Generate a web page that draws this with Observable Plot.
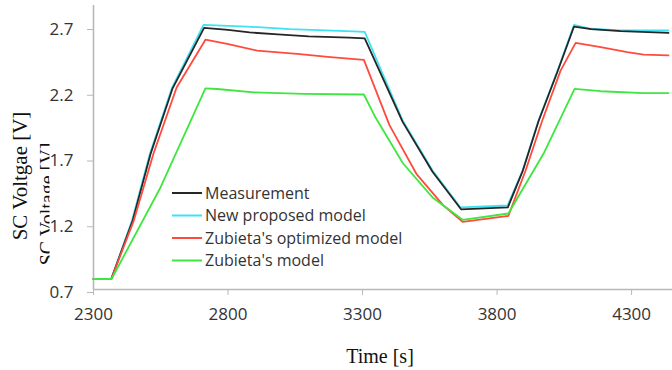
<!DOCTYPE html>
<html><head><meta charset="utf-8">
<script src="https://cdn.jsdelivr.net/npm/d3@7"></script>
<script src="https://cdn.jsdelivr.net/npm/@observablehq/plot@0.6"></script>
<style>
body{margin:0;background:#fff}
#chart{position:relative;width:672px;height:370px}
</style>
</head><body><div id="chart"></div>
<script>
const seriesNames = ["Measurement", "New proposed model", "Zubieta's optimized model", "Zubieta's model"];
const seriesColors = ["#262626", "#3ee2f2", "#ff4b3e", "#3fe63f"];

const measT = [2300, 2366, 2445, 2512, 2594, 2711, 2800, 2880, 2985, 3100, 3250, 3308, 3449, 3560, 3666, 3840, 3895, 3954, 4025, 4086, 4150, 4260, 4437];
const measV = [0.78, 0.78, 1.22, 1.73, 2.23, 2.69, 2.675, 2.655, 2.64, 2.625, 2.615, 2.61, 1.975, 1.595, 1.31, 1.325, 1.6, 1.98, 2.36, 2.70, 2.68, 2.665, 2.652];

const newT = [2300, 2366, 2443, 2510, 2592, 2709, 2870, 3030, 3240, 3308, 3449, 3560, 3664, 3839, 3895, 3954, 4025, 4086, 4148, 4259, 4437];
const newV = [0.78, 0.78, 1.225, 1.735, 2.236, 2.713, 2.70, 2.68, 2.665, 2.66, 1.985, 1.605, 1.324, 1.339, 1.605, 1.985, 2.365, 2.713, 2.683, 2.67, 2.67];

const optT = [2300, 2366, 2449, 2523, 2609, 2716, 2797, 2908, 3057, 3181, 3305, 3400, 3500, 3600, 3672, 3842, 3906, 3968, 4036, 4092, 4185, 4284, 4345, 4437];
const optV = [0.78, 0.78, 1.22, 1.734, 2.236, 2.60, 2.568, 2.517, 2.492, 2.467, 2.447, 1.95, 1.58, 1.34, 1.215, 1.26, 1.605, 1.985, 2.365, 2.576, 2.543, 2.505, 2.487, 2.48];

const zubT = [2300, 2367, 2549, 2716, 2760, 2896, 3082, 3305, 3345, 3450, 3560, 3672, 3842, 3973, 4088, 4185, 4345, 4437];
const zubV = [0.78, 0.78, 1.476, 2.23, 2.225, 2.20, 2.188, 2.183, 2.02, 1.66, 1.40, 1.23, 1.278, 1.734, 2.226, 2.208, 2.193, 2.193];

const xTicks = [2300, 2800, 3300, 3800, 4300];
const yTicks = [0.7, 1.2, 1.7, 2.2, 2.7];
const xTitle = "Time [s]";
const yTitle = "SC Voltgae [V]";
const yGhostTitle = "SC Voltage [V]";

const toRows = (T, V, s) => T.map((t, i) => ({t, v: V[i], s}));
const allT = [measT, newT, optT, zubT];
const allV = [measV, newV, optV, zubV];
const drawOrder = [1, 0, 2, 3];
const rows = drawOrder.flatMap(k => toRows(allT[k], allV[k], seriesNames[k]));

const chart = Plot.plot({
  width: 672, height: 370,
  marginLeft: 93, marginRight: 0, marginTop: 5, marginBottom: 81,
  style: {fontFamily: "'Open Sans', sans-serif", fontSize: "17px", background: "#fff"},
  x: {domain: [2300, 4452]},
  y: {domain: [0.7, 2.86]},
  color: {domain: seriesNames, range: seriesColors},
  marks: [
    Plot.axisX({ticks: xTicks, tickSize: 6, tickPadding: 12, stroke: "#b8b8b8", fill: "#333", label: null, tickFormat: d => String(d)}),
    Plot.axisY({ticks: yTicks, tickSize: 6, tickPadding: 14, stroke: "#b8b8b8", fill: "#333", label: null, dy: 3, tickFormat: d => d.toFixed(1)}),
    Plot.ruleY([0.7], {stroke: "#b8b8b8", strokeWidth: 1.6}),
    Plot.ruleX([2300], {stroke: "#b8b8b8", strokeWidth: 1.6}),
    Plot.line(rows, {x: "t", y: "v", z: "s", stroke: "s", strokeWidth: 1.8, curve: "linear"})
  ]
});
document.getElementById("chart").appendChild(chart);

const svg = d3.select(chart);
// ghost (clipped) axis title
svg.append("defs").append("clipPath").attr("id", "ghostclip")
  .append("rect").attr("x", 0).attr("y", 143).attr("width", 49.5).attr("height", 200);
svg.append("g").attr("clip-path", "url(#ghostclip)")
  .append("text")
  .attr("transform", "translate(54,204) rotate(-90)")
  .attr("text-anchor", "middle").attr("font-family", "'Liberation Serif', serif")
  .attr("font-size", 20).attr("fill", "#111").text(yGhostTitle);
// axis titles
svg.append("text")
  .attr("transform", "translate(27,176) rotate(-90)")
  .attr("text-anchor", "middle").attr("font-family", "'Liberation Serif', serif")
  .attr("font-size", 21).attr("fill", "#111").text(yTitle);
svg.append("text")
  .attr("x", 380).attr("y", 363)
  .attr("text-anchor", "middle").attr("font-family", "'Liberation Serif', serif")
  .attr("font-size", 20).attr("fill", "#111").text(xTitle);
// legend
const lg = svg.append("g").attr("transform", "translate(172,193)");
seriesNames.forEach((name, i) => {
  const g = lg.append("g").attr("transform", `translate(0,${i * 22.5})`);
  g.append("line").attr("x1", 0).attr("x2", 30).attr("y1", 0).attr("y2", 0)
    .attr("stroke", seriesColors[i]).attr("stroke-width", 2);
  g.append("text").attr("x", 33).attr("y", 0).attr("dy", "0.35em")
    .attr("text-anchor", "start")
    .attr("font-family", "'Open Sans', sans-serif").attr("font-size", 16)
    .attr("fill", "#333").text(name);
});
</script>
</body></html>
